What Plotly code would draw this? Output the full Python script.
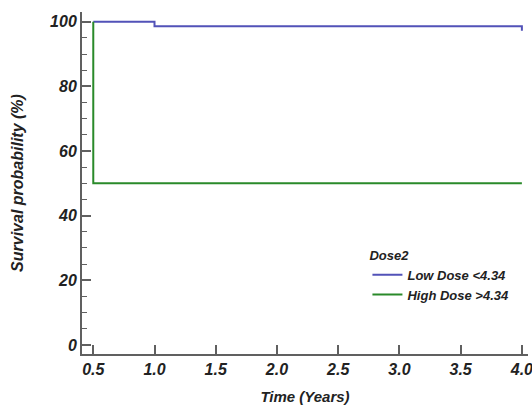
import plotly.graph_objects as go

# Data (Kaplan-Meier step curves)
low_time = [0.5, 1.0, 1.0, 4.0, 4.0]
low_surv = [100, 100, 98.6, 98.6, 97.2]
high_time = [0.5, 0.5, 4.0]
high_surv = [100, 50, 50]

series_names = ["Low Dose <4.34", "High Dose >4.34"]
series_colors = ["#5252b8", "#2a8a2a"]

x_ticks = [0.5, 1.0, 1.5, 2.0, 2.5, 3.0, 3.5, 4.0]
x_ticklabels = ["0.5", "1.0", "1.5", "2.0", "2.5", "3.0", "3.5", "4.0"]
y_ticks = [0, 20, 40, 60, 80, 100]

font_family = "Liberation Sans, Arial, sans-serif"
text_color = "#222222"

fig = go.Figure()
fig.add_trace(go.Scatter(x=low_time, y=low_surv, mode="lines",
                         name=f"<b><i>{series_names[0].replace('<', '&lt;')}</i></b>",
                         line=dict(color=series_colors[0], width=2, shape="hv")))
fig.add_trace(go.Scatter(x=high_time, y=high_surv, mode="lines",
                         name=f"<b><i>{series_names[1].replace('>', '&gt;')}</i></b>",
                         line=dict(color=series_colors[1], width=2, shape="hv")))

axis_color = "#606060"
fig.update_layout(
    width=532, height=405,
    margin=dict(l=82, r=4, t=12, b=51),
    plot_bgcolor="white", paper_bgcolor="white",
    font=dict(family=font_family, color=text_color),
    showlegend=True,
    legend=dict(
        x=0.64, y=0.325, xanchor="left", yanchor="top",
        bgcolor="rgba(0,0,0,0)",
        title=dict(text="<b><i>Dose2</i></b>", font=dict(size=13, family=font_family, color=text_color)),
        font=dict(size=13, family=font_family, color=text_color),
        itemwidth=30, tracegroupgap=0,
    ),
    xaxis=dict(
        range=[0.408, 4.05],
        tickvals=x_ticks,
        ticktext=[f"<b><i>{t}</i></b>" for t in x_ticklabels],
        ticks="inside", ticklen=9, tickwidth=2, tickcolor=axis_color,
        ticklabeloverflow="allow", automargin=False,
        showline=True, linecolor=axis_color, linewidth=2,
        showgrid=False, zeroline=False,
        tickfont=dict(size=16, family=font_family, color=text_color),
        title=dict(text="<b><i>Time (Years)</i></b>", font=dict(size=15, family=font_family, color=text_color), standoff=14),
    ),
    yaxis=dict(
        range=[-2.8, 103],
        tickvals=y_ticks,
        ticktext=[f"<b><i>{t}</i></b>" for t in y_ticks],
        ticks="inside", ticklen=9, tickwidth=2, tickcolor=axis_color,
        minor=dict(dtick=5, ticks="inside", ticklen=5, tickwidth=1, tickcolor=axis_color, showgrid=False),
        showline=True, linecolor=axis_color, linewidth=2,
        showgrid=False, zeroline=False, automargin=False,
        tickfont=dict(size=16, family=font_family, color=text_color),
        title=dict(text="<b><i>Survival probability (%)</i></b>", font=dict(size=16, family=font_family, color=text_color), standoff=22),
    ),
)

fig.write_html("out.html")
